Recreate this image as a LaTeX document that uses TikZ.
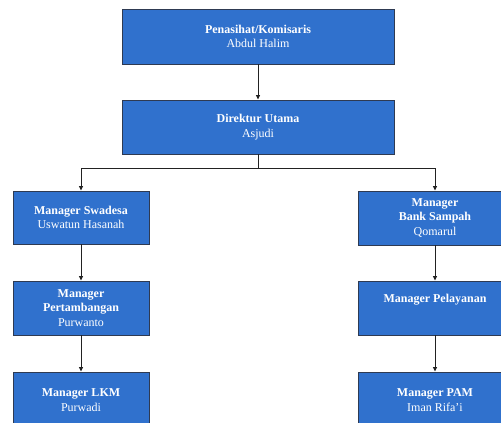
\documentclass[tikz,border=0pt]{standalone}
\usepackage{fontspec}
\setmainfont{Liberation Serif}
\usetikzlibrary{arrows.meta}
\definecolor{boxfill}{HTML}{3071CD}
\definecolor{boxline}{HTML}{2E3A52}
\definecolor{wireline}{HTML}{222222}
\begin{document}
\begin{tikzpicture}[x=1pt,y=-1pt,
  orgbox/.style={draw=boxline, line width=0.9pt, fill=boxfill, text=white,
    align=center, inner sep=0pt, font=\fontsize{12}{14.5}\selectfont},
  wire/.style={draw=wireline, line width=0.8pt},
  arr/.style={wire, -{Triangle[length=4.5pt,width=4pt]}}]
\useasboundingbox (0,0) rectangle (501,423);
\node[orgbox, minimum width=272pt, minimum height=55pt] (kom) at (258,36.5)
  {\textbf{Penasihat/Komisaris}\\Abdul Halim};
\node[orgbox, minimum width=272pt, minimum height=54pt] (dir) at (258,127)
  {\textbf{Direktur Utama}\\Asjudi};
\node[orgbox, minimum width=136pt, minimum height=53pt] (swa) at (81,217.5)
  {\textbf{Manager Swadesa}\\Uswatun Hasanah};
\node[orgbox, minimum width=136pt, minimum height=54pt] (tam) at (81,308)
  {\textbf{Manager}\\\textbf{Pertambangan}\\Purwanto};
\node[orgbox, minimum width=136pt, minimum height=56pt] (lkm) at (81,400)
  {\textbf{Manager LKM}\\Purwadi};
\node[orgbox, minimum width=154pt, minimum height=54pt] (bank) at (435,218)
  {\textbf{Manager}\\\textbf{Bank Sampah}\\Qomarul};
\node[orgbox, minimum width=154pt, minimum height=54pt] (pel) at (435,308)
  {\textbf{Manager Pelayanan}\\\strut};
\node[orgbox, minimum width=154pt, minimum height=56pt] (pam) at (435,400)
  {\textbf{Manager PAM}\\Iman Rifa'i};
\coordinate (split) at (258,168);
\draw[arr] (kom) -- (dir);
\draw[wire] (dir.south) -- (split);
\draw[arr] (split) -| (swa.north);
\draw[arr] (split) -| (bank.north);
\draw[arr] (swa) -- (tam);
\draw[arr] (tam) -- (lkm);
\draw[arr] (bank) -- (pel);
\draw[arr] (pel) -- (pam);
\end{tikzpicture}
\end{document}
